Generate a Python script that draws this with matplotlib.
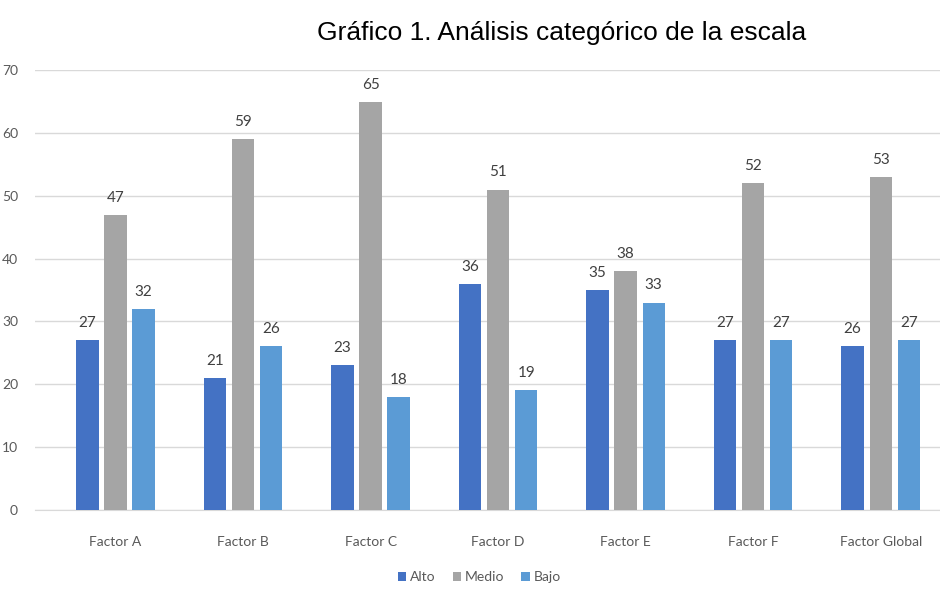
import numpy as np
import matplotlib
matplotlib.use('Agg')
import matplotlib.pyplot as plt

categorias = ['Factor A', 'Factor B', 'Factor C', 'Factor D', 'Factor E', 'Factor F', 'Factor Global']
alto = [27, 21, 23, 36, 35, 27, 26]
medio = [47, 59, 65, 51, 38, 52, 53]
bajo = [32, 26, 18, 19, 33, 27, 27]
series = {'Alto': alto, 'Medio': medio, 'Bajo': bajo}
colores = ['#4472C4', '#A5A5A5', '#5B9BD5']

plt.rcParams['font.family'] = ['Lato', 'DejaVu Sans']

fig = plt.figure(figsize=(9.4, 5.9), dpi=100)
ax = fig.add_axes([0.037, 0.136, 0.963, 0.745])

x = np.arange(len(categorias))
ancho = 0.175
paso = 0.22
for i, (nombre, vals) in enumerate(series.items()):
    pos = x + (i - 1) * paso
    barras = ax.bar(pos, vals, ancho, color=colores[i], label=nombre, zorder=3)
    for b, v in zip(barras, vals):
        ax.text(b.get_x() + b.get_width() / 2, v + 1.6, str(v), ha='center', va='bottom',
                fontsize=11, color='#404040')

ax.set_xlim(-0.633, 6.465)
ax.set_ylim(0, 70)
ax.set_yticks(range(0, 71, 10))
ax.set_xticks(x)
ax.set_xticklabels(categorias)
ax.grid(axis='y', color='#D9D9D9', linewidth=1, zorder=0)
for s in ['top', 'right', 'left']:
    ax.spines[s].set_visible(False)
ax.spines['bottom'].set_color('#D9D9D9')
ax.tick_params(axis='both', length=0, labelsize=10, colors='#595959')
ax.tick_params(axis='x', pad=19)
ax.tick_params(axis='y', pad=12)

fig.text(0.597, 0.944, 'Gráfico 1. Análisis categórico de la escala', ha='center', va='center',
         fontsize=19, family=['Liberation Sans', 'DejaVu Sans'], color='#000000')

fig.legend(loc='center', bbox_to_anchor=(0.51, 0.022), ncol=3, frameon=False,
           fontsize=10, handlelength=0.6, handleheight=0.6, handletextpad=0.3,
           columnspacing=1.2, labelcolor='#595959')

fig.savefig('out.png', dpi=100)
